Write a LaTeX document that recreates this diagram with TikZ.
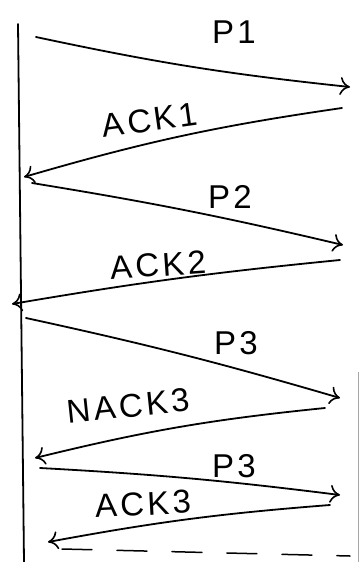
\documentclass[tikz,border=0pt]{standalone}
\usepackage{fontspec}
\setmainfont{Liberation Sans}[LetterSpace=10]
\usetikzlibrary{arrows.meta}
\begin{document}
\begin{tikzpicture}[x=1pt,y=-1pt,
  msg/.style={line width=1.8pt, line cap=round, -{To[length=10pt,width=18pt,line width=1.6pt]}},
  lane/.style={line width=1.8pt, line cap=round},
  lbl/.style={font=\fontsize{33}{36}\selectfont, inner sep=0pt}]
\useasboundingbox (0,0) rectangle (360,562);
\fill[white] (0,0) rectangle (360,562);
% lifelines
\coordinate (lt) at (18,24);
\coordinate (lb) at (24,562);
\coordinate (rt) at (358,372);
\coordinate (rb) at (358,562);
\draw[lane] (lt) -- (lb);
\draw[line width=0.8pt, gray!70] (rt) -- (rb);
% end points
\coordinate (a1) at (36,37);   \coordinate (b1) at (350,87);
\coordinate (a2) at (342,108); \coordinate (b2) at (24,177);
\coordinate (a3) at (32,183);  \coordinate (b3) at (343,245);
\coordinate (a4) at (340,260); \coordinate (b4) at (12,304);
\coordinate (a5) at (26,318);  \coordinate (b5) at (340,398);
\coordinate (a6) at (325,408); \coordinate (b6) at (35,458);
\coordinate (a7) at (40,468);  \coordinate (b7) at (340,495);
\coordinate (a8) at (330,505); \coordinate (b8) at (48,542);
\coordinate (a9) at (62,549);  \coordinate (b9) at (350,556);
% messages
\draw[msg] (a1) to[bend right=3] (b1);
\draw[msg] (a2) to[bend right=4] (b2);
\draw[msg] (a3) to[bend left=2] (b3);
\draw[msg] (a4) to[bend right=2] (b4);
\draw[msg] (a5) to[bend left=2] (b5);
\draw[msg] (a6) to[bend right=4] (b6);
\draw[msg] (a7) to[bend left=2] (b7);
\draw[msg] (a8) to[bend right=3] (b8);
\draw[line width=1.5pt, dash pattern=on 30pt off 25pt, line cap=round] (a9) -- (b9);
% labels
\node[lbl] (p1) at (234,32) {P1};
\node[lbl, rotate=8] (ack1) at (150,120) {ACK1};
\node[lbl] (p2) at (230,197) {P2};
\node[lbl, rotate=4] (ack2) at (158,265) {ACK2};
\node[lbl] (p3) at (236,343) {P3};
\node[lbl, rotate=6] (nack3) at (128,406) {NACK3};
\node[lbl] (p3b) at (234,466) {P3};
\node[lbl, rotate=3] (ack3) at (143,504) {ACK3};
\end{tikzpicture}
\end{document}
